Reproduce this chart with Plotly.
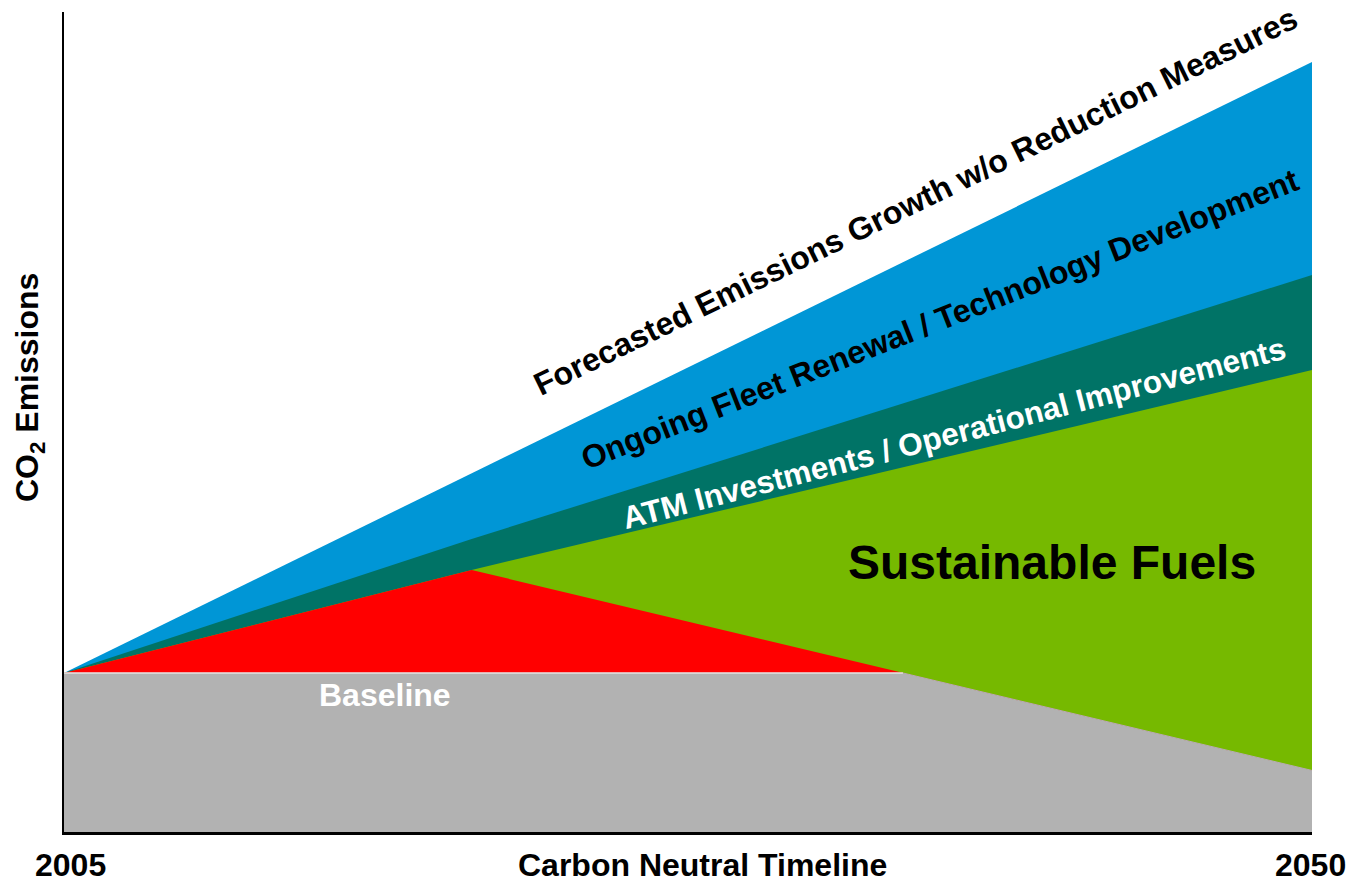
import plotly.graph_objects as go

# ---- data (arbitrary emission units, 2005 baseline = 100) ----
years_forecast = [2005, 2050]
forecast_no_measures = [100, 484.3]          # top of blue band

years_tech = [2005, 2019.7, 2050]
with_fleet_tech = [100, 184.3, 350.3]        # top of teal band
with_atm_ops = [100, 164.8, 290.6]           # top of green band

years_net = [2005, 2019.7, 2050]
net_emissions = [100, 164.8, 38.7]           # after sustainable fuels (top of red)

years_base = [2005, 2035.25, 2050]
baseline = [100, 100, 38.7]                  # grey baseline area

colors = {
    "blue": "#0096D6",
    "teal": "#007366",
    "green": "#76B900",
    "red": "#FF0000",
    "gray": "#B2B2B2",
}

FONT = "Liberation Sans, Arial, sans-serif"

fig = go.Figure()

def area(x, y, color, lw=0):
    fig.add_trace(go.Scatter(
        x=x, y=y, mode="lines", fill="tozeroy", fillcolor=color,
        line=dict(width=lw, color=color), hoverinfo="skip", showlegend=False))

area(years_forecast, forecast_no_measures, colors["blue"])
area(years_tech, with_fleet_tech, colors["teal"])
area(years_tech, with_atm_ops, colors["green"])
area(years_net, net_emissions, colors["red"])
area(years_base, baseline, colors["gray"], lw=1)

# thin white separation line along the flat baseline
fig.add_trace(go.Scatter(
    x=years_base[:2], y=baseline[:2], mode="lines",
    line=dict(width=1, color="white"), hoverinfo="skip", showlegend=False))

def label(text, x, y, size, color, angle=0, xref="x", yref="y"):
    fig.add_annotation(
        text=text, x=x, y=y, xref=xref, yref=yref, showarrow=False,
        textangle=angle, xanchor="center", yanchor="middle",
        font=dict(family=FONT, size=size, color=color, weight="bold"))

label("Forecasted Emissions Growth w/o Reduction Measures", 2035.72, 397.0, 32, "black", -26)
label("Ongoing Fleet Renewal / Technology Development", 2036.6, 322.5, 32, "black", -21.5)
label("ATM Investments / Operational Improvements", 2037.1, 251.0, 31.5, "white", -14.5)
label("Sustainable Fuels", 2040.61, 169.8, 48, "black")
label("Baseline", 2016.57, 86.2, 32, "white")

label("2005", 0.0052, -0.0402, 32, "black", xref="paper", yref="paper")
label("2050", 0.999, -0.0402, 32, "black", xref="paper", yref="paper")
label("Carbon Neutral Timeline", 0.512, -0.0402, 32, "black", xref="paper", yref="paper")
label("CO<sub>2</sub> Emissions", -0.0272, 0.5415, 32, "black", angle=-90,
      xref="paper", yref="paper")

fig.update_layout(
    width=1349, height=882,
    margin=dict(l=64, r=37, t=12, b=50),
    paper_bgcolor="white", plot_bgcolor="white",
    xaxis=dict(range=[2005, 2050], showgrid=False, zeroline=False,
               showticklabels=False, ticks="", showline=True,
               linecolor="black", linewidth=3, fixedrange=True),
    yaxis=dict(range=[0, 515.7], showgrid=False, zeroline=False,
               showticklabels=False, ticks="", showline=True,
               linecolor="black", linewidth=2, fixedrange=True),
    showlegend=False,
)

fig.write_html(
    "out.html",
    config={"displayModeBar": False},
    post_script="document.body.style.margin='0';document.body.style.overflow='hidden';",
)
